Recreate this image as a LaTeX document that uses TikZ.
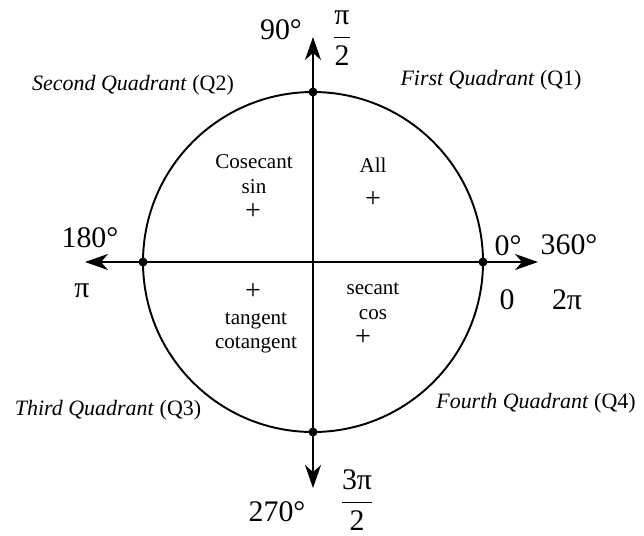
\documentclass[tikz,border=0pt]{standalone}
\usepackage{fontspec}
\setmainfont{Liberation Serif}
\usetikzlibrary{arrows.meta}

\begin{document}
\begin{tikzpicture}[x=0.02cm, y=-0.02cm,
  axis/.style={{Stealth[length=0.46cm, width=0.32cm, inset=0.14cm]}-{Stealth[length=0.46cm, width=0.32cm, inset=0.14cm]}, line width=1.1pt},
  dot/.style={circle, fill, inner sep=0pt, minimum size=0.18cm},
  deg/.style={font=\fontsize{17}{19}\selectfont},
  quad/.style={font=\fontsize{12.5}{14}\selectfont},
  trig/.style={font=\fontsize{12}{14}\selectfont, align=center, inner sep=1pt},
  plus/.style={font=\fontsize{16}{16}\selectfont, inner sep=0pt},
]
\useasboundingbox (0,0) rectangle (644,535);
\coordinate (o) at (313,262);
\draw[line width=1.1pt] (o) circle[radius=170];

% axes
\coordinate (xneg) at (85,262);
\coordinate (xpos) at (538,262);
\coordinate (ypos) at (313,37);
\coordinate (yneg) at (313,488);
\draw[axis] (xneg) -- (xpos);
\draw[axis] (yneg) -- (ypos);

\node[dot] (east) at (483,262) {};
\node[dot] (west) at (143,262) {};
\node[dot] (north) at (313,92) {};
\node[dot] (south) at (313,432) {};

% angles
\node[deg] (d90) at (281,30) {90°};
\node[deg] (r90) at (342,38) {$\displaystyle\frac{\textrm{π}}{\textrm{2}}$};
\node[deg] (d180) at (90,238) {180°};
\node[deg] (r180) at (82,291) {π};
\node[deg] (d0) at (508,246) {0°};
\node[deg] (d360) at (569,245) {360°};
\node[deg] (r0) at (507,300) {0};
\node[deg] (r360) at (567,300) {2π};
\node[deg] (d270) at (277,512) {270°};
\node[deg] (r270) at (357,500) {$\displaystyle\frac{\textrm{3π}}{\textrm{2}}$};

% quadrants
\node[quad] (q2) at (133,85) {\textit{Second Quadrant} (Q2)};
\node[quad] (q1) at (491,80) {\textit{First Quadrant} (Q1)};
\node[quad] (q3) at (108,410) {\textit{Third Quadrant} (Q3)};
\node[quad] (q4) at (536,403) {\textit{Fourth Quadrant} (Q4)};

% signs
\node[trig] (sin) at (254,174) {Cosecant\\sin};
\node[plus] (sinp) at (253,212) {+};
\node[trig] (all) at (373,165) {All};
\node[plus] (allp) at (373,200) {+};
\node[plus] (tanp) at (253,292) {+};
\node[trig] (tan) at (256,333) {tangent\\cotangent};
\node[trig] (cos) at (373,301) {secant\\cos};
\node[plus] (cosp) at (363,338) {+};
\end{tikzpicture}
\end{document}
